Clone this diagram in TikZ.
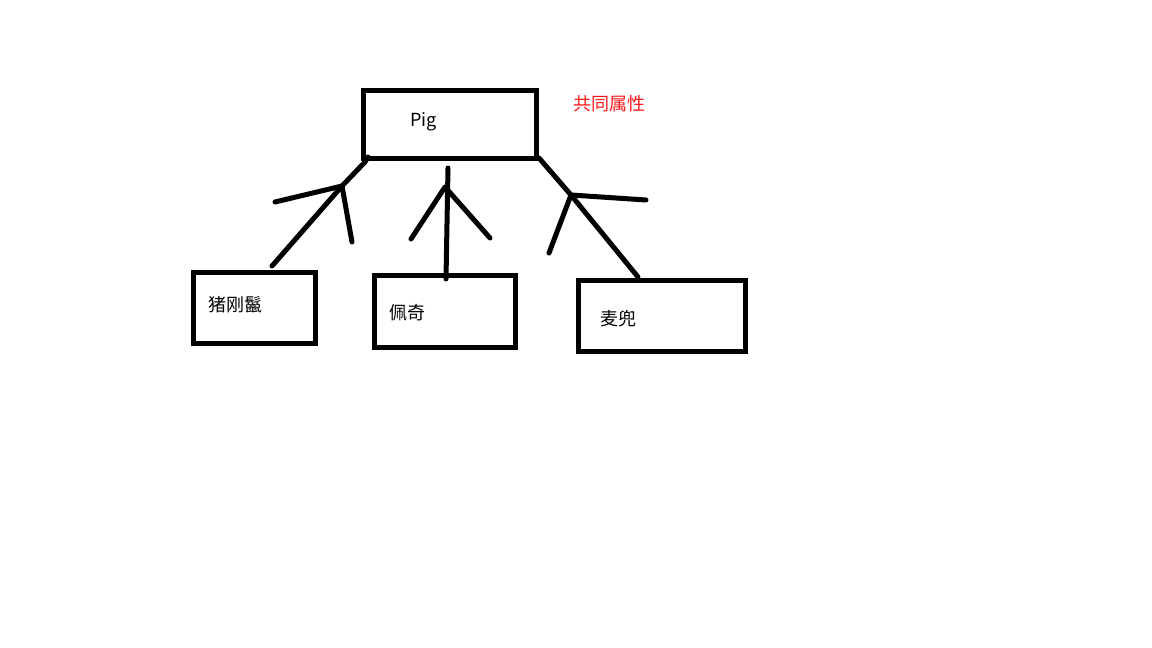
\documentclass[tikz,border=0pt]{standalone}
\usepackage{fontspec}
\setmainfont{Noto Sans CJK SC}
\begin{document}
\begin{tikzpicture}[x=1pt,y=-1pt,
  box/.style={draw=black,line width=5pt,inner sep=0pt,outer sep=0pt},
  lbl/.style={anchor=west,inner sep=0pt,font=\fontsize{18}{21}\selectfont},
  stroke/.style={line width=5pt,line cap=round,line join=round}]
\useasboundingbox[fill=white] (0,0) rectangle (1152,648);
% boxes
\node[box,minimum width=173,minimum height=68] (pig) at (449.5,124) {};
\node[box,minimum width=122,minimum height=71] (b1) at (254,307.5) {};
\node[box,minimum width=141,minimum height=72] (b2) at (444.5,311) {};
\node[box,minimum width=167,minimum height=71] (b3) at (661.5,315.5) {};
% texts
\node[lbl] (tpig) at (410,122) {Pig};
\node[lbl,text=red!90!white] (tattr) at (573,104) {共同属性};
\node[lbl] (t1) at (208,305) {猪刚鬣};
\node[lbl] (t2) at (389,313) {佩奇};
\node[lbl] (t3) at (600,319) {麦兜};
% left tree
\coordinate (la) at (368,157);
\coordinate (lb) at (365,162);
\coordinate (lj) at (342,186);
\coordinate (ll) at (275,202);
\coordinate (lr) at (352,242);
\coordinate (le) at (272,266);
\draw[stroke] (la) -- (lb) -- (lj) -- (le);
\draw[stroke] (ll) -- (lj) -- (lr);
% middle tree
\coordinate (mt) at (448,168);
\coordinate (mj) at (445,187);
\coordinate (ml) at (411,239);
\coordinate (mr) at (490,238);
\coordinate (me) at (446,279);
\draw[stroke] (mt) -- (me);
\draw[stroke] (ml) -- (mj) -- (mr);
% right tree
\coordinate (rt) at (539,158);
\coordinate (rj) at (571,195);
\coordinate (rr) at (646,200);
\coordinate (rl) at (549,253);
\coordinate (re) at (638,277);
\draw[stroke] (rt) -- (rj) -- (re);
\draw[stroke] (rl) -- (rj) -- (rr);
\end{tikzpicture}
\end{document}
